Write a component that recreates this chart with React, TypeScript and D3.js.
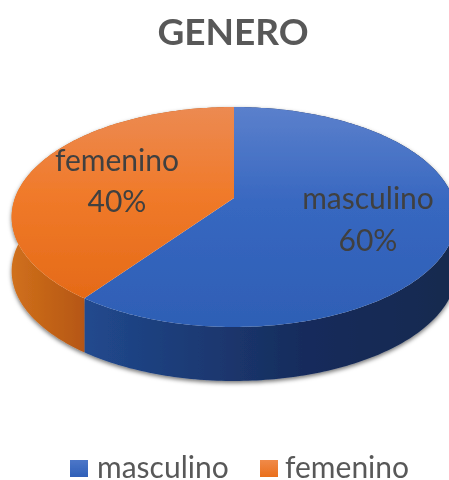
import React from "react";
import * as d3 from "d3";

const categories = ["masculino", "femenino"];
const shares = [60, 40];
const labels = ["60%", "40%"];
const title = "GENERO";

const W = 449, H = 480;
const apex = { x: 234, y: 198 };
const scaleU = 219, scaleV = 106.7, persp = -0.1727, depth = 54;
const font = "Lato, 'Open Sans', sans-serif";

// perspective projection of the unit pie onto the tilted disc
function project(angle: number): [number, number] {
  const u = Math.sin(angle), v = -Math.cos(angle);
  const w = 1 + persp * v;
  return [apex.x + (scaleU * u) / w, apex.y + (scaleV * v) / w];
}

const arcs = d3.pie<number>().sort(null)(shares);
const line = d3.line();

function rim(a0: number, a1: number) {
  const n = Math.max(2, Math.ceil((a1 - a0) * 60));
  return d3.range(n + 1).map((i) => project(a0 + ((a1 - a0) * i) / n));
}

const topPaths = arcs.map((a) =>
  line([[apex.x, apex.y], ...rim(a.startAngle, a.endAngle)])! + "Z"
);
const sidePaths = arcs.map((a) => {
  const r = rim(a.startAngle, a.endAngle);
  const low = r.map(([x, y]) => [x, y + depth] as [number, number]).reverse();
  return line([...r, ...low])! + "Z";
});

const labelPos = [
  { x: 368, y1: 209, y2: 251 },
  { x: 117, y1: 171, y2: 212 },
];
const legendPos = [
  { sx: 70, tx: 97 },
  { sx: 260, tx: 285 },
];
const topFill = ["url(#topBlue)", "url(#topOrange)"];
const sideFill = ["url(#sideBlue)", "url(#sideOrange)"];
const legendFill = ["url(#legBlue)", "url(#legOrange)"];

export default function App() {
  return (
    <svg width={W} height={H} style={{ position: "absolute", left: 0, top: 0, background: "#fff" }}>
      <defs>
        <linearGradient id="topBlue" gradientUnits="userSpaceOnUse" x1="0" x2="0" y1="107" y2="327">
          <stop offset="0" stopColor="#5b80cc" />
          <stop offset="0.45" stopColor="#3767c0" />
          <stop offset="1" stopColor="#2e5fb5" />
        </linearGradient>
        <linearGradient id="topOrange" gradientUnits="userSpaceOnUse" x1="0" x2="0" y1="107" y2="300">
          <stop offset="0" stopColor="#ec8a52" />
          <stop offset="0.45" stopColor="#f07a2a" />
          <stop offset="1" stopColor="#e56a17" />
        </linearGradient>
        <linearGradient id="sideBlue" gradientUnits="userSpaceOnUse" x1="84" x2="449" y1="0" y2="0">
          <stop offset="0" stopColor="#21498e" />
          <stop offset="0.6" stopColor="#172c5c" />
          <stop offset="1" stopColor="#16294f" />
        </linearGradient>
        <linearGradient id="sideOrange" gradientUnits="userSpaceOnUse" x1="12" x2="88" y1="0" y2="0">
          <stop offset="0" stopColor="#d0701c" />
          <stop offset="1" stopColor="#b45512" />
        </linearGradient>
        <linearGradient id="legBlue" x1="0" x2="0" y1="0" y2="1">
          <stop offset="0" stopColor="#4c76c8" />
          <stop offset="1" stopColor="#2f60b8" />
        </linearGradient>
        <linearGradient id="legOrange" x1="0" x2="0" y1="0" y2="1">
          <stop offset="0" stopColor="#f08a48" />
          <stop offset="1" stopColor="#ea6f1c" />
        </linearGradient>
        <filter id="shadow" x="-10%" y="-10%" width="120%" height="125%">
          <feDropShadow dx="0" dy="2" stdDeviation="2" floodColor="#000" floodOpacity="0.55" />
        </filter>
        <filter id="soft"><feGaussianBlur stdDeviation="0.6" /></filter>
      </defs>

      <text x={233} y={45} textAnchor="middle" fontFamily={font} fontWeight={700} fontSize={37} fill="#595959" filter="url(#soft)">
        {title}
      </text>

      <g filter="url(#shadow)">
        {sidePaths.map((d, i) => <path key={i} d={d} fill={sideFill[i]} />)}
      </g>
      <g filter="url(#soft)">
        {topPaths.map((d, i) => <path key={i} d={d} fill={topFill[i]} />)}
      </g>

      <g filter="url(#soft)" fontFamily={font} fontSize={30} fill="#404040" textAnchor="middle">
        {categories.map((c, i) => (
          <g key={c}>
            <text x={labelPos[i].x} y={labelPos[i].y1}>{c}</text>
            <text x={labelPos[i].x} y={labelPos[i].y2}>{labels[i]}</text>
          </g>
        ))}
      </g>

      <g filter="url(#soft)" fontFamily={font} fontSize={30} fill="#595959">
        {categories.map((c, i) => (
          <g key={c}>
            <rect x={legendPos[i].sx} y={460} width={18} height={17} fill={legendFill[i]} />
            <text x={legendPos[i].tx} y={478}>{c}</text>
          </g>
        ))}
      </g>
    </svg>
  );
}
